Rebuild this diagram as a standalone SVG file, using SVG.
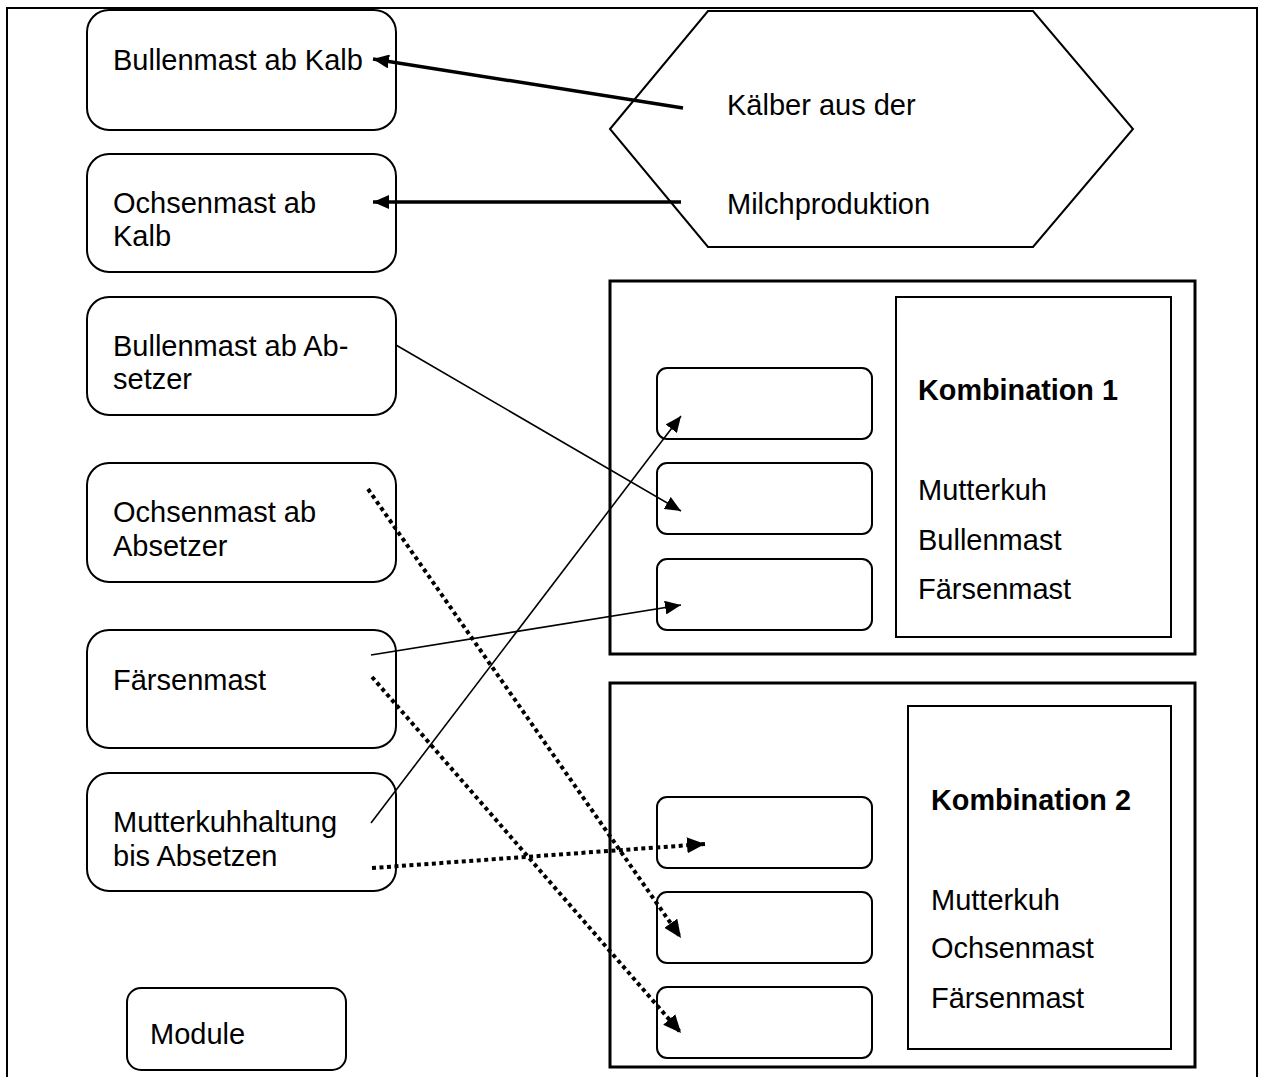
<svg xmlns="http://www.w3.org/2000/svg" width="1261" height="1077" viewBox="0 0 1261 1077">
<style>
text{font-family:"Liberation Sans",Arial,sans-serif;font-size:29px;fill:#000}
.b{font-weight:bold;font-size:28.8px}
.box{fill:#fff;stroke:#000;stroke-width:2}
.thin{fill:none;stroke:#000;stroke-width:1.6}
.thick{fill:none;stroke:#000;stroke-width:3.5}
.dot{fill:none;stroke:#000;stroke-width:4;stroke-dasharray:4 3.5}
</style>
<defs>
<marker id="ah" markerUnits="userSpaceOnUse" markerWidth="16" markerHeight="14" refX="16" refY="7" orient="auto"><path d="M0,0 L16,7 L0,14 z" fill="#000"/></marker>
<marker id="ahd" markerUnits="userSpaceOnUse" markerWidth="18" markerHeight="16" refX="18" refY="8" orient="auto"><path d="M0,0 L18,8 L0,16 z" fill="#000"/></marker>
</defs>
<rect x="7" y="8" width="1250" height="1090" fill="#fff" stroke="#000" stroke-width="2"/>
<g id="n-bullen-kalb"><rect class="box" x="87" y="10" width="309" height="120" rx="22"/><text x="113" y="70">Bullenmast ab Kalb</text></g>
<g id="n-ochsen-kalb"><rect class="box" x="87" y="154" width="309" height="118" rx="22"/><text x="113" y="213">Ochsenmast ab</text><text x="113" y="246">Kalb</text></g>
<g id="n-bullen-abs"><rect class="box" x="87" y="297" width="309" height="118" rx="22"/><text x="113" y="356">Bullenmast ab Ab-</text><text x="113" y="389">setzer</text></g>
<g id="n-ochsen-abs"><rect class="box" x="87" y="463" width="309" height="119" rx="22"/><text x="113" y="522">Ochsenmast ab</text><text x="113" y="556">Absetzer</text></g>
<g id="n-faersen"><rect class="box" x="87" y="630" width="309" height="118" rx="22"/><text x="113" y="690">Färsenmast</text></g>
<g id="n-mutterkuh"><rect class="box" x="87" y="773" width="309" height="118" rx="22"/><text x="113" y="832">Mutterkuhhaltung</text><text x="113" y="866">bis Absetzen</text></g>
<g id="n-module"><rect class="box" x="127" y="988" width="219" height="82" rx="14"/><text x="150" y="1044">Module</text></g>
<g id="n-kaelber"><polygon class="box" stroke-width="1.6" points="610,129 708,11 1033,11 1133,129 1033,247 708,247"/><text x="727" y="115">Kälber aus der</text><text x="727" y="214">Milchproduktion</text></g>
<g id="n-kombi1">
<rect x="610" y="281" width="585" height="373" fill="none" stroke="#000" stroke-width="3"/>
<rect x="896" y="297" width="275" height="340" fill="none" stroke="#000" stroke-width="2"/>
<rect class="box" x="657" y="368" width="215" height="71" rx="10"/>
<rect class="box" x="657" y="463" width="215" height="71" rx="10"/>
<rect class="box" x="657" y="559" width="215" height="71" rx="10"/>
<text class="b" x="918" y="400">Kombination 1</text>
<text x="918" y="500">Mutterkuh</text><text x="918" y="550">Bullenmast</text><text x="918" y="599">Färsenmast</text>
</g>
<g id="n-kombi2">
<rect x="610" y="683" width="585" height="384" fill="none" stroke="#000" stroke-width="3"/>
<rect x="908" y="706" width="263" height="343" fill="none" stroke="#000" stroke-width="2"/>
<rect class="box" x="657" y="797" width="215" height="71" rx="10"/>
<rect class="box" x="657" y="892" width="215" height="71" rx="10"/>
<rect class="box" x="657" y="987" width="215" height="71" rx="10"/>
<text class="b" x="931" y="810">Kombination 2</text>
<text x="931" y="910">Mutterkuh</text><text x="931" y="958">Ochsenmast</text><text x="931" y="1008">Färsenmast</text>
</g>
<g id="connectors">
<line class="thick" x1="683" y1="108" x2="373" y2="59" marker-end="url(#ah)"/>
<line class="thick" x1="681" y1="202" x2="373" y2="202" marker-end="url(#ah)"/>
<line class="thin" x1="396" y1="345" x2="681" y2="511" marker-end="url(#ah)"/>
<line class="thin" x1="371" y1="823" x2="681" y2="416" marker-end="url(#ah)"/>
<line class="thin" x1="371" y1="655" x2="681" y2="605" marker-end="url(#ah)"/>
<line class="dot" x1="368" y1="489" x2="681" y2="938" marker-end="url(#ahd)"/>
<line class="dot" x1="372" y1="677" x2="681" y2="1033" marker-end="url(#ahd)"/>
<line class="dot" x1="372" y1="868" x2="705" y2="844" marker-end="url(#ahd)"/>
</g>
</svg>
